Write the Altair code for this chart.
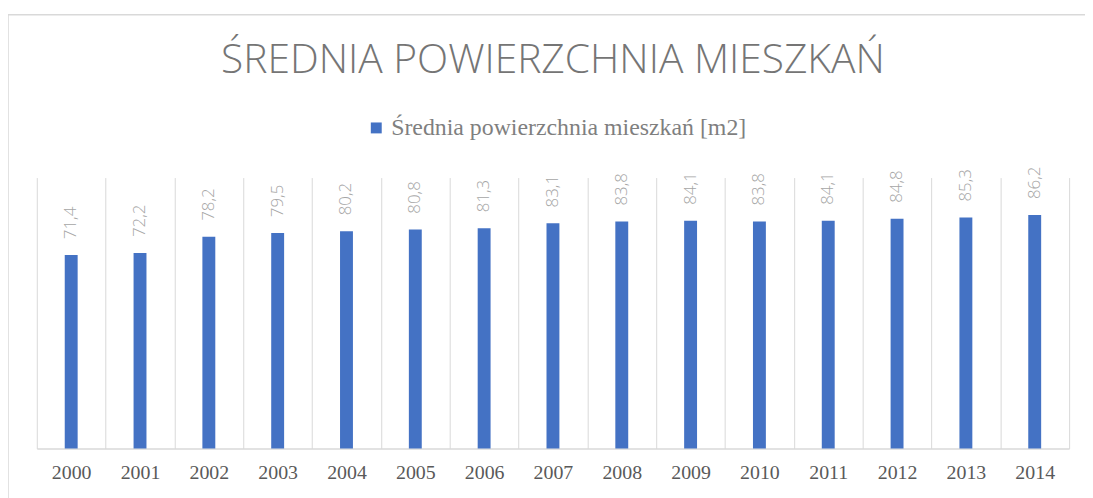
import altair as alt
import pandas as pd

years = [str(y) for y in range(2000, 2015)]
values = [71.4, 72.2, 78.2, 79.5, 80.2, 80.8, 81.3, 83.1, 83.8, 84.1, 83.8, 84.1, 84.8, 85.3, 86.2]
series_name = "Średnia powierzchnia mieszkań  [m2]"
title_text = "ŚREDNIA POWIERZCHNIA MIESZKAŃ"

df = pd.DataFrame({
    "rok": years,
    "wartosc": values,
    "etykieta": [f"{v:.1f}".replace(".", ",") for v in values],
    "seria": [series_name] * len(years),
})

W, H = 1040, 273

base = alt.Chart(df)

bars = base.mark_bar(size=13, color="#4472C4").encode(
    x=alt.X("rok:N", sort=years, title=None,
            scale=alt.Scale(paddingInner=0, paddingOuter=0),
            axis=alt.Axis(tickBand="extent", grid=True, gridColor="#d9d9d9", gridWidth=1,
                          ticks=False, domainColor="#d9d9d9", domainWidth=1.5,
                          labelAngle=0, labelFont="Liberation Serif", labelFontSize=20,
                          labelColor="#595959", labelPadding=14)),
    y=alt.Y("wartosc:Q", scale=alt.Scale(domain=[0, 100]), axis=None),
    color=alt.Color("seria:N", scale=alt.Scale(range=["#4472C4"]),
                    legend=alt.Legend(title=None, orient="none", legendX=330, legendY=-62,
                                      symbolType="square", symbolSize=121,
                                      symbolStrokeWidth=0,
                                      labelFont="Liberation Serif", labelFontSize=24,
                                      labelColor="#7f7f7f", labelOffset=3, labelLimit=700)),
)

labels = base.mark_text(angle=270, align="left", baseline="middle", dx=16,
                        font="Open Sans", fontWeight=300, fontSize=17,
                        color="#a5a5a5").encode(
    x=alt.X("rok:N", sort=years),
    y=alt.Y("wartosc:Q"),
    text="etykieta:N",
)

border_df = pd.DataFrame({"k": [1]})
border = alt.Chart(border_df).mark_rect(filled=False, stroke="#d9d9d9", strokeWidth=1.5).encode(
    x=alt.value(-29), x2=alt.value(1100), y=alt.value(-164), y2=alt.value(400)
)

chart = alt.layer(border, bars, labels).properties(
    width=W, height=H,
    title=alt.TitleParams(title_text, font="Open Sans", fontWeight=300, fontSize=41,
                          color="#757575", anchor="middle", baseline="alphabetic",
                          offset=-100),
    autosize=alt.AutoSizeParams(type="none"),
    padding={"left": 29, "top": 169, "right": 16, "bottom": 48},
).configure_view(stroke=None)

chart.save("out.html", embed_options={"renderer": "svg", "actions": False})
